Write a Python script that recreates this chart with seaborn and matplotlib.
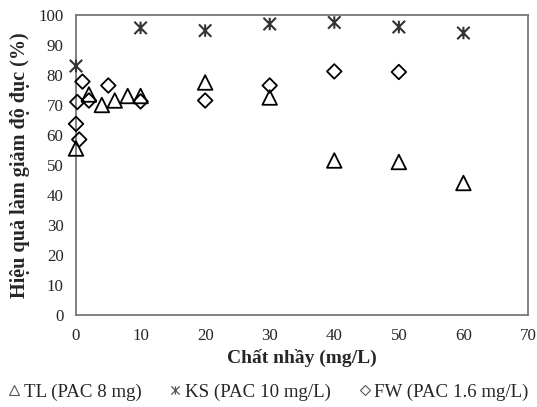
import pandas as pd
import numpy as np
import seaborn as sns
import matplotlib.pyplot as plt
from matplotlib.lines import Line2D
from matplotlib.path import Path

# values
tl_x = [0, 2, 4, 6, 8, 10, 20, 30, 40, 50, 60]
tl_y = [55.5, 73.5, 70, 71.5, 73, 73, 77.5, 72.5, 51.5, 51, 44]
ks_x = [0, 10, 20, 30, 40, 50, 60]
ks_y = [83, 95.7, 94.8, 97, 97.5, 96, 94]
fw_x = [0, 0.2, 0.5, 1, 2, 5, 10, 20, 30, 40, 50]
fw_y = [63.7, 71, 58.5, 77.8, 71.5, 76.5, 71.2, 71.5, 76.5, 81.2, 81]
labels = ['TL (PAC 8 mg)', 'KS (PAC 10 mg/L)', 'FW (PAC 1.6 mg/L)']

# excel-style star: an x with a vertical bar through it
star = Path([(-1, -1), (1, 1), (-1, 1), (1, -1), (0, -1), (0, 1)],
            [Path.MOVETO, Path.LINETO, Path.MOVETO, Path.LINETO, Path.MOVETO, Path.LINETO])

sns.set_style("white")
plt.rcParams['font.family'] = ['Liberation Serif', 'DejaVu Serif']

fig = plt.figure(figsize=(5.37, 4.07), dpi=100)
ax = fig.add_axes([76/537, 1-315/407, (528-76)/537, (315-15)/407])

tl = pd.DataFrame({'x': tl_x, 'y': tl_y})
ks = pd.DataFrame({'x': ks_x, 'y': ks_y})
fw = pd.DataFrame({'x': fw_x, 'y': fw_y})

sns.scatterplot(data=tl, x='x', y='y', marker='^', s=110, ax=ax, color='black',
                linewidth=1.3, clip_on=False, zorder=3)
ax.collections[-1].set_facecolor('none')
ax.collections[-1].set_edgecolor('black')
sns.scatterplot(data=ks, x='x', y='y', marker=star, s=80, ax=ax, color='#333333',
                linewidth=1.5, clip_on=False, zorder=3)
ax.collections[-1].set_facecolor('none')
ax.collections[-1].set_edgecolor('#333333')
sns.scatterplot(data=fw, x='x', y='y', marker='D', s=55, ax=ax, color='black',
                linewidth=1.3, clip_on=False, zorder=3)
ax.collections[-1].set_facecolor('none')
ax.collections[-1].set_edgecolor('black')

ax.set_xlim(0, 70)
ax.set_ylim(0, 100)
ax.set_xticks(np.arange(0, 71, 10))
ax.set_yticks(np.arange(0, 101, 10))
ax.tick_params(direction='inout', length=6, color='#888888', labelsize=12.2, pad=6)
for s in ax.spines.values():
    s.set_color('#777777')
    s.set_linewidth(1.3)
ax.set_xlabel('Chất nhầy (mg/L)', fontsize=14, fontweight='bold', labelpad=4)
ax.set_ylabel('Hiệu quả làm giảm độ đục (%)', fontsize=14.5, fontweight='bold', labelpad=6)

handles = [
    Line2D([], [], ls='none', marker='^', ms=7, mfc='none', mec='#555555', mew=0.8),
    Line2D([], [], ls='none', marker=star, ms=6, mfc='none', mec='#555555', mew=0.9),
    Line2D([], [], ls='none', marker='D', ms=5, mfc='none', mec='#555555', mew=0.8),
]
fig.legend(handles, labels, loc='center', bbox_to_anchor=(0.5, 1-392/407), ncol=3,
           frameon=False, fontsize=13.6, handlelength=0.6, handletextpad=0.2,
           columnspacing=1.5)

fig.savefig('out.png', dpi=100)
